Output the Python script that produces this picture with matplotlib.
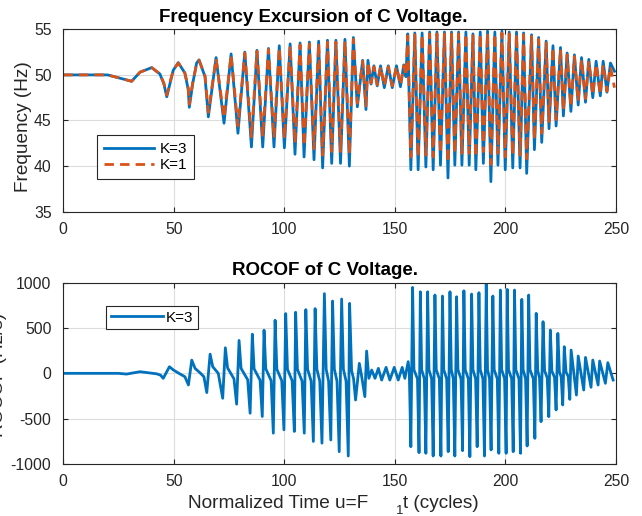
import matplotlib
matplotlib.use("Agg")
import matplotlib.pyplot as plt

plt.rcParams['font.family'] = ['Liberation Sans', 'DejaVu Sans']
plt.rcParams['axes.unicode_minus'] = False

# ---- data ----
# frequency excursion: time (cycles) of turning points, K=3 and K=1 values (Hz)
freq_t = [0, 20, 25.5, 30.9, 34.7, 40.0, 43.7, 45.5, 46.8, 48.2, 49.7, 52.0, 55.0, 56.5, 57.0,
          58.5, 60.3, 61.4, 64.1, 65.6,
          69.1, 72.7, 75.9, 79.0, 82.1, 85.1, 87.6, 90.2, 92.8, 95.3, 97.7, 100.0, 102.6, 104.8,
          107.1, 108.9, 111.3, 113.4, 115.5, 117.3, 119.5, 121.4, 123.3, 125.4, 127.4, 129.4, 131.2,
          133.0, 135.4, 136.9, 137.8, 139.2, 140.5, 142.0, 143.5, 145.2, 147.0, 148.8, 150.7, 152.5,
          154.0, 155.0,
          155.8, 157.2, 159.0, 160.5, 162.3, 164.0, 165.7, 167.3, 169.0, 170.6, 172.4, 174.0, 175.6,
          177.1, 178.8, 180.3, 182.1, 183.6, 185.3, 186.6, 188.6, 190.0, 191.9, 193.4, 195.2, 196.6,
          198.4, 199.9, 201.7, 203.3, 205.0, 206.6, 208.2, 209.6,
          211.8, 213.1, 215.0, 216.4, 218.4, 219.7, 221.5, 222.9, 224.9, 226.2, 227.9, 229.6, 231.2,
          232.9, 234.4, 236.2, 237.7, 239.5, 241.0, 242.9, 244.2, 245.9, 247.5, 249.3]

freq_k3 = [50.0, 50.0, 49.65, 49.3, 50.3, 50.8, 50.1, 49.0, 47.6, 49.0, 50.5, 51.35, 50.2, 48.4, 46.45,
           49.0, 51.3, 51.65, 49.8, 45.4,
           51.9, 44.7, 52.3, 43.6, 52.5, 42.1, 52.7, 42.1, 52.9, 42.1, 53.2, 42.0, 53.4, 41.3,
           53.5, 41.0, 53.6, 40.7, 53.7, 39.8, 53.8, 40.3, 53.8, 40.3, 53.9, 40.0, 54.1,
           46.5, 51.6, 46.2, 51.6, 49.0, 51.0, 48.8, 51.0, 48.6, 51.0, 48.6, 51.0, 48.7,
           51.1, 49.8,
           54.5, 39.6, 54.6, 39.6, 54.6, 39.9, 54.7, 39.6, 54.7, 40.1, 54.7, 38.7, 54.7,
           40.1, 54.7, 40.1, 54.7, 40.1, 54.5, 39.6, 54.7, 40.3, 54.8, 38.3, 54.7, 40.1,
           54.8, 39.6, 54.7, 39.8, 54.7, 39.8, 54.6, 39.2,
           54.4, 41.8, 54.1, 42.6, 53.7, 44.1, 53.2, 44.4, 53.0, 45.5, 52.4, 46.0, 52.2,
           46.7, 51.9, 47.0, 51.7, 47.5, 51.5, 47.7, 51.5, 48.1, 51.3, 50.4]

freq_k1 = [50.0, 50.0, 49.65, 49.3, 50.3, 50.8, 50.1, 49.1, 47.8, 49.1, 50.5, 51.3, 50.2, 48.6, 46.8,
           49.1, 51.2, 51.6, 49.9, 45.9,
           51.8, 45.3, 52.2, 44.4, 52.4, 43.2, 52.6, 43.2, 52.8, 43.1, 53.0, 43.0, 53.2, 42.5,
           53.3, 42.2, 53.4, 41.9, 53.5, 41.2, 53.6, 41.6, 53.6, 41.6, 53.7, 41.3, 53.9,
           46.9, 51.5, 46.6, 51.4, 49.1, 50.9, 48.9, 50.9, 48.8, 50.9, 48.8, 50.9, 48.9,
           51.0, 49.9,
           54.3, 41.0, 54.4, 41.0, 54.4, 41.2, 54.5, 41.0, 54.5, 41.4, 54.5, 40.4, 54.5,
           41.4, 54.5, 41.4, 54.5, 41.4, 54.3, 41.0, 54.5, 41.6, 54.6, 40.2, 54.5, 41.4,
           54.6, 41.0, 54.5, 41.2, 54.5, 41.2, 54.4, 40.8,
           54.2, 42.9, 53.9, 43.6, 53.5, 44.9, 53.0, 45.1, 52.8, 46.1, 52.2, 46.5, 52.0,
           47.1, 51.7, 47.4, 51.5, 47.8, 51.2, 47.9, 51.1, 48.2, 50.9, 48.6]

# ROCOF (K=3): time and value (Hz/s)
rocof_t = [0, 25, 28.6, 34.7, 42.2, 44.0, 45.2, 48.0, 49.8, 52.8, 55.0, 56.6, 58.1, 59.6, 61.8,
           63.6, 64.9, 66.4, 67.6, 70.1, 72.1, 73.3, 74.3, 77.2, 78.4, 79.5, 80.4, 83.4, 84.5,
           85.5, 86.3, 89.0, 90.0, 90.8, 91.6, 94.0, 95.0, 95.8, 96.6, 98.8, 99.8, 100.6, 101.4,
           103.5, 104.5, 105.1, 105.9, 108.0, 109.0, 109.7, 110.5, 112.1, 113.1, 113.9, 114.7,
           116.0, 117.0, 118.1, 118.9, 120.0, 121.0, 121.8, 122.6, 123.8, 124.8, 125.9, 126.7,
           127.9, 128.9, 129.5, 130.4, 131.3, 132.2, 133.9, 134.8, 136.4, 137.2, 138.2, 139.5,
           141.0, 142.5, 144.0, 146.0, 147.7, 149.7, 151.5, 153.3, 154.5, 156.0, 156.5,
           157.2, 158.0, 158.6, 160.2, 160.9, 161.5, 162.1, 163.3, 164.0, 164.8, 165.4, 166.6,
           167.3, 168.1, 168.7, 170.1, 170.8, 171.5, 172.1, 173.4, 174.1, 174.9, 175.5, 176.4,
           177.1, 177.9, 178.5, 179.9, 180.6, 181.2, 181.8, 183.2, 183.9, 184.7, 185.3, 186.5,
           187.2, 188.0, 188.6, 189.8, 190.5, 191.3, 191.9, 192.8, 193.5, 194.3, 194.9, 196.3,
           197.0, 197.7, 198.3, 199.6, 200.3, 200.8, 201.4, 202.8, 203.5, 204.1, 204.7, 206.1,
           206.8, 207.4, 208.0, 209.1, 209.8, 210.5, 211.1, 212.6, 213.3, 213.9, 214.6, 215.4,
           216.1, 217.0, 217.7, 218.9, 219.6, 220.3, 221.0, 222.2, 222.9, 223.7, 224.4, 225.2,
           225.9, 226.6, 227.4, 228.4, 229.1, 229.7, 232.1, 232.9, 235.4, 236.2, 238.7, 239.5,
           241.9, 242.6, 245.2, 246.3, 248.7]

rocof_k3 = [0, 0, -8, 18, -5, -20, -55, 73, 37, -7, -37, -128, 146, 55, 7,
            -37, -212, 212, 73, 0, -275, 282, 60, -60, -340, 363, 55, -70, -440,
            432, 50, -75, -476, 476, 50, -80, -660, 586, 45, -80, -623, 659, 45,
            -80, -641, 674, 45, -85, -660, 703, 45, -85, -751, 714, 45,
            -85, -770, 879, 45, -85, -735, 798, 45, -85, -864, 820, 45,
            -85, -912, 772, 30, -60, -294, 110, -10, -257, 246, -55, 37,
            -55, 55, -74, 66, -74, 66, -74, 66, -55, 129, 20,
            -809, 948, 40, -60, -875, 900, 40, -60, -882, 900, 40, -60,
            -912, 864, 40, -60, -912, 853, 40, -60, -864, 900, 40, -60,
            -912, 845, 40, -60, -853, 911, 40, -60, -919, 875, 40, -60,
            -809, 890, 40, -60, -912, 985, 40, -60, -845, 853, 40, -60,
            -882, 919, 40, -60, -882, 926, 40, -60, -864, 919, 40, -60,
            -882, 816, 40, -60, -801, 864, 40, -60, -717, 662, 30, -50,
            -533, 570, 30, -50, -478, 478, 25, -45, -404, 441, 20, -40,
            -349, 294, 15, -35, -287, 257, -239, 191, -184, 176, -154, 147,
            -129, 136, -110, 118, -74]

x_ticks = [0, 50, 100, 150, 200, 250]
freq_ticks = [35, 40, 45, 50, 55]
rocof_ticks = [-1000, -500, 0, 500, 1000]

blue = '#0072BD'
orange = '#D95319'
dark = '#262626'

W, H = 642, 516
fig = plt.figure(figsize=(W / 100, H / 100), dpi=100)


def px_axes(l, t, r, b):
    return fig.add_axes([l / W, 1 - b / H, (r - l) / W, (b - t) / H])


def style(ax):
    ax.set_xlim(0, 250)
    ax.set_xticks(x_ticks)
    ax.grid(True, color='#dcdcdc', linewidth=0.8)
    ax.set_axisbelow(True)
    for s in ax.spines.values():
        s.set_color(dark)
        s.set_linewidth(0.8)
    ax.tick_params(direction='in', top=True, right=True, length=3.6, width=0.8,
                   colors=dark, labelsize=11.3, labelcolor=dark)
    ax.tick_params(axis='y', pad=8.5)
    ax.tick_params(axis='x', pad=7.5)


ax1 = px_axes(63.3, 29.3, 616, 211.7)
ax1.plot(freq_t, freq_k3, color=blue, lw=2, label='K=3')
ax1.plot(freq_t, freq_k1, color=orange, lw=2, linestyle=(0, (3.4, 2.2)), label='K=1')
ax1.set_ylim(35, 55)
ax1.set_yticks(freq_ticks)
style(ax1)
leg1 = ax1.legend(loc='upper left', bbox_to_anchor=((96.7 - 63.3) / 552.7, 1 - (135 - 29.3) / 182.4),
                  borderaxespad=0, fancybox=False, framealpha=1, edgecolor=dark,
                  fontsize=11, handlelength=3.3, handletextpad=0.35, borderpad=0.45,
                  labelspacing=0.15)
leg1.get_frame().set_linewidth(0.8)

ax2 = px_axes(63.3, 282.7, 616, 464)
ax2.plot(rocof_t, rocof_k3, color=blue, lw=2, label='K=3')
ax2.set_ylim(-1000, 1000)
ax2.set_yticks(rocof_ticks)
style(ax2)
leg2 = ax2.legend(loc='upper left', bbox_to_anchor=((106 - 63.3) / 552.7, 1 - (306 - 282.7) / 181.3),
                  borderaxespad=0, fancybox=False, framealpha=1, edgecolor=dark,
                  fontsize=11, handlelength=3.4, handletextpad=0.2, borderpad=0.3)
leg2.get_frame().set_linewidth(0.8)

# titles and labels (placed in pixel positions as in the reference)
fig.text(313 / W, 1 - 21.7 / H, 'Frequency Excursion of C Voltage.', ha='center', va='baseline',
         fontsize=13.5, fontweight='bold', color='black')
fig.text(325 / W, 1 - 275 / H, 'ROCOF of C Voltage.', ha='center', va='baseline',
         fontsize=13.5, fontweight='bold', color='black')
fig.text(23.5 / W, 1 - 126.5 / H, 'Frequency (Hz)', rotation=90, ha='center', va='center',
         fontsize=13.7, color=dark)
fig.text(-1.5 / W, 1 - 375 / H, 'ROCOF (Hz/s)', rotation=90, ha='center', va='center',
         fontsize=13.7, color=dark)
fig.text(188 / W, 1 - 508 / H, 'Normalized Time u=F', ha='left', va='baseline',
         fontsize=13.7, color=dark)
fig.text(396 / W, 1 - 513.5 / H, '1', ha='left', va='baseline', fontsize=9.5, color=dark)
fig.text(402.7 / W, 1 - 508 / H, 't (cycles)', ha='left', va='baseline',
         fontsize=13.7, color=dark)

fig.savefig('out.png', dpi=100, facecolor='white')
